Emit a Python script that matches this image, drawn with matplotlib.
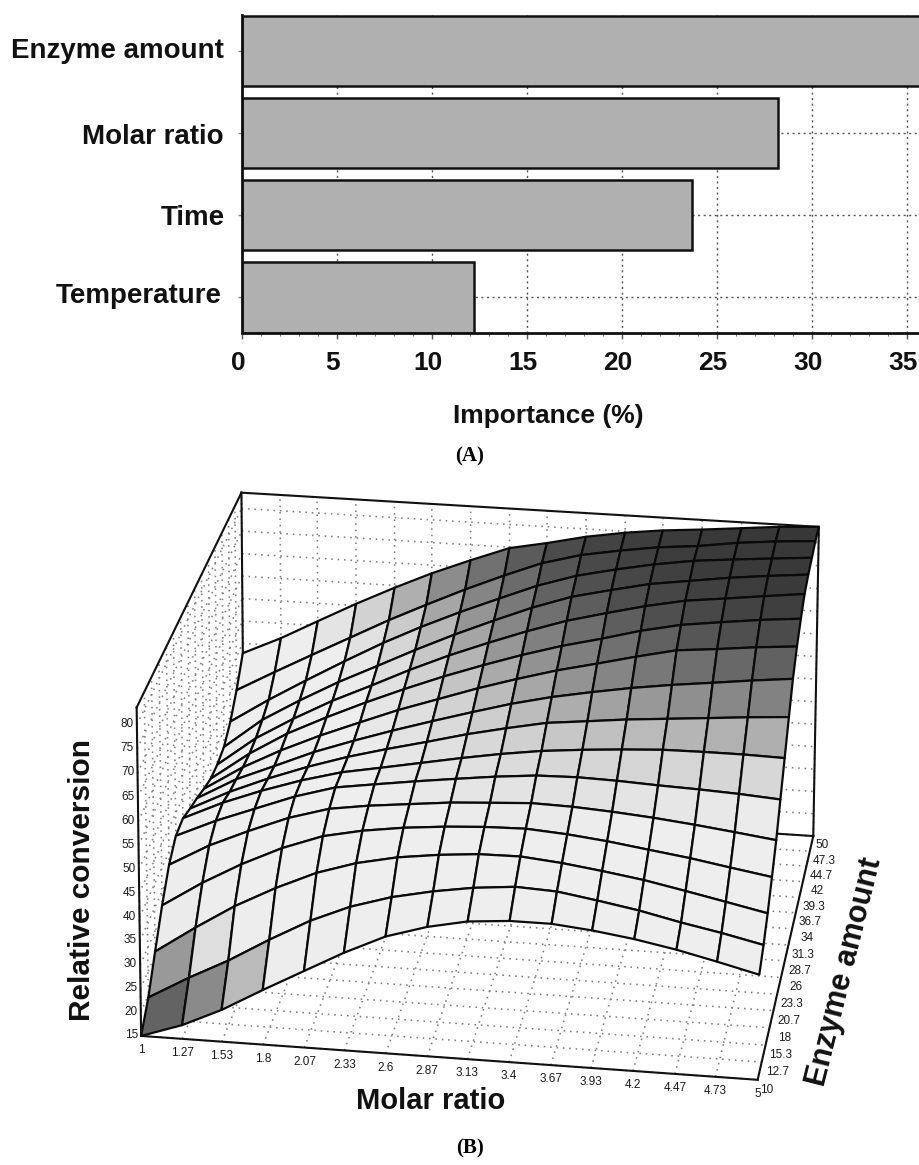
import numpy as np
import matplotlib
matplotlib.use("Agg")
import matplotlib.pyplot as plt
from matplotlib.ticker import MultipleLocator
from matplotlib.transforms import ScaledTranslation
from mpl_toolkits.mplot3d import proj3d

plt.rcParams['font.family'] = ['Liberation Sans', 'DejaVu Sans']

# ---------- data: panel A ----------
factors = ["Temperature", "Time", "Molar ratio", "Enzyme amount"]
importance = [12.2, 23.7, 28.2, 35.7]
importance_ticks = [0, 5, 10, 15, 20, 25, 30, 35]

# ---------- data: panel B ----------
molar_ticks = [1, 1.27, 1.53, 1.8, 2.07, 2.33, 2.6, 2.87, 3.13, 3.4, 3.67, 3.93, 4.2, 4.47, 4.73, 5]
enzyme_ticks = [10, 12.7, 15.3, 18, 20.7, 23.3, 26, 28.7, 31.3, 34, 36.7, 39.3, 42, 44.7, 47.3, 50]
conversion_ticks = [15, 20, 25, 30, 35, 40, 45, 50, 55, 60, 65, 70, 75, 80]
conversion_top = 83.5

# one row per enzyme amount, one column per molar ratio
conversion = [
    [15.0, 17.9, 21.7, 26.5, 31.1, 35.5, 39.5, 42.1, 43.8, 44.5, 44.5, 43.7, 42.5, 40.9, 39.0, 36.9],
    [19.5, 24.3, 28.5, 33.5, 38.1, 41.6, 44.2, 46.0, 47.3, 48.1, 47.7, 46.4, 44.9, 43.0, 41.4, 39.5],
    [25.8, 31.5, 36.6, 41.0, 44.8, 47.4, 49.2, 50.3, 51.0, 51.1, 50.3, 49.2, 47.9, 46.2, 44.5, 42.7],
    [32.1, 37.5, 42.0, 46.0, 49.1, 50.8, 52.0, 52.8, 53.3, 53.5, 52.9, 52.0, 50.8, 49.6, 48.2, 46.8],
    [37.3, 42.0, 45.6, 49.0, 51.5, 52.7, 53.6, 54.5, 55.0, 55.5, 55.3, 54.8, 54.1, 53.2, 52.2, 51.1],
    [40.2, 44.0, 47.1, 50.3, 52.8, 54.0, 55.2, 56.3, 57.3, 58.1, 58.3, 58.1, 57.7, 57.4, 57.0, 56.4],
    [40.6, 44.5, 47.6, 50.4, 52.7, 54.2, 55.8, 57.4, 58.8, 60.0, 60.8, 61.4, 61.9, 62.0, 62.0, 61.8],
    [39.3, 43.5, 46.9, 50.0, 52.7, 54.9, 57.0, 59.2, 61.0, 62.7, 63.6, 64.5, 65.2, 65.9, 66.6, 67.2],
    [38.3, 43.0, 46.4, 50.0, 53.0, 55.7, 58.3, 60.8, 63.1, 65.1, 66.7, 68.1, 69.3, 70.3, 71.3, 72.2],
    [37.0, 42.3, 46.5, 50.3, 53.7, 56.9, 59.8, 62.7, 65.2, 67.6, 69.6, 71.6, 73.5, 74.3, 75.2, 75.9],
    [35.9, 42.0, 46.9, 51.0, 54.8, 58.2, 61.5, 64.5, 67.2, 69.7, 71.8, 74.0, 75.8, 76.9, 77.9, 78.7],
    [35.8, 42.2, 47.0, 51.5, 55.4, 59.3, 63.0, 66.3, 69.3, 72.1, 74.3, 76.3, 78.0, 79.0, 80.0, 81.0],
    [36.4, 43.0, 47.8, 52.4, 56.5, 60.5, 64.4, 68.0, 71.3, 74.2, 76.2, 78.0, 79.2, 80.4, 81.3, 82.1],
    [38.8, 44.2, 49.0, 53.8, 58.4, 62.4, 66.2, 69.7, 73.0, 75.7, 77.6, 79.2, 80.5, 81.3, 82.0, 82.7],
    [42.7, 47.3, 51.6, 56.0, 60.4, 64.3, 68.2, 71.8, 75.0, 77.3, 78.8, 80.0, 80.8, 82.0, 82.8, 83.4],
    [47.8, 51.7, 56.0, 60.4, 64.5, 68.2, 71.6, 74.8, 76.4, 78.3, 79.7, 80.7, 81.4, 82.2, 83.0, 83.5],
]

# grey shade of a cell against its mean conversion
shade_levels = [18, 23, 26, 29, 32, 53, 58, 61, 64, 68, 72, 76, 80, 84]
shade_greys = [0.34, 0.54, 0.62, 0.83, 0.93, 0.935, 0.87, 0.81, 0.70, 0.55, 0.43, 0.31, 0.235, 0.21]

W, H = 920, 1165
fig = plt.figure(figsize=(W / 100, H / 100), dpi=100, facecolor='white')

# ---------- panel B: surface, with the camera calibrated on the frame ----------
ax3 = fig.add_axes([0, 0, 1, 1], projection='3d', computed_zorder=False, proj_type='ortho')
ax3.set_axis_off()
ax3.patch.set_alpha(0)
ax3.set_xlim(molar_ticks[0], molar_ticks[-1])
ax3.set_ylim(enzyme_ticks[0], enzyme_ticks[-1])
ax3.set_zlim(conversion_ticks[0], conversion_top)

mlo, mhi = molar_ticks[0], molar_ticks[-1]
elo, ehi = enzyme_ticks[0], enzyme_ticks[-1]
zlo, zhi = conversion_ticks[0], conversion_top
frame_world = [(mlo, elo, zlo), (mhi, elo, zlo), (mhi, ehi, zlo), (mlo, ehi, zlo),
               (mlo, elo, zhi), (mlo, ehi, zhi), (mhi, ehi, zhi),
               (3, elo, zlo), (mhi, 30, zlo)]
frame_pixel = [(142, 1036), (757, 1082), (813, 838), (244, 799),
               (137, 707), (241, 492), (819, 528),
               (446, 1059), (788, 947)]

T = np.array([[1 / (mhi - mlo), 0, 0, -mlo / (mhi - mlo)],
              [0, 1 / (ehi - elo), 0, -elo / (ehi - elo)],
              [0, 0, 1 / (zhi - zlo), -zlo / (zhi - zlo)],
              [0, 0, 0, 1]])
rows = []
for wp, (px, py) in zip(frame_world, frame_pixel):
    n = T @ np.array([*wp, 1.0])
    q = np.array([px / W, py / H, 1.0])
    rows.append(np.r_[n, np.zeros(4), -q[0] * n])
    rows.append(np.r_[np.zeros(4), n, -q[1] * n])
P = np.linalg.svd(np.array(rows))[2][-1].reshape(3, 4)
if (P[2] @ np.array([.5, .5, .5, 1])) < 0:
    P = -P
P = P / (P[2] @ np.array([.5, .5, .5, 1]))
P[0] *= W
P[1] *= H
M = np.vstack([P[0] @ T, P[1] @ T, [0, 0, 0, -1.0], P[2] @ T])

ax3.viewLim.intervalx = (0, W)
ax3.viewLim.intervaly = (H, 0)
ax3.get_proj = lambda: M
ax3.apply_aspect = lambda position=None: None

dot = dict(ls=(0, (1, 3)), color='#808080', lw=1.15, zorder=1)
for m in molar_ticks:
    ax3.plot([m, m], [elo, ehi], [zlo, zlo], **dot)
    ax3.plot([m, m], [ehi, ehi], [zlo, zhi], **dot)
for e in enzyme_ticks:
    ax3.plot([mlo, mhi], [e, e], [zlo, zlo], **dot)
    ax3.plot([mlo, mlo], [e, e], [zlo, zhi], **dot)
for z in conversion_ticks:
    ax3.plot([mlo, mhi], [ehi, ehi], [z, z], **dot)
    ax3.plot([mlo, mlo], [elo, ehi], [z, z], **dot)

solid = dict(color='#111111', lw=1.5, zorder=2)
for a, b in [((mlo, elo, zlo), (mhi, elo, zlo)), ((mhi, elo, zlo), (mhi, ehi, zlo)),
             ((mhi, ehi, zlo), (mlo, ehi, zlo)), ((mlo, elo, zlo), (mlo, elo, zhi)),
             ((mlo, ehi, zlo), (mlo, ehi, zhi)), ((mhi, ehi, zlo), (mhi, ehi, zhi)),
             ((mlo, elo, zhi), (mlo, ehi, zhi)), ((mlo, ehi, zhi), (mhi, ehi, zhi))]:
    ax3.plot(*zip(a, b), **solid)

X, Y = np.meshgrid(molar_ticks, enzyme_ticks)
Z = np.array(conversion)
mean_z = (Z[:-1, :-1] + Z[1:, :-1] + Z[:-1, 1:] + Z[1:, 1:]) / 4
grey = np.interp(mean_z, shade_levels, shade_greys)
faces = np.dstack([grey, grey, grey, np.ones_like(grey)])
ax3.plot_surface(X, Y, Z, facecolors=faces, rstride=1, cstride=1, shade=False,
                 edgecolor='#0a0a0a', linewidth=1.6, antialiased=True, zorder=3)

def tick_text(m, e, z, s):
    px, py, _ = proj3d.proj_transform(m, e, z, M)
    fig.text(float(px) / W, 1 - float(py) / H, s, fontsize=8.5, color='#1a1a1a',
             ha='center', va='center')

for m in molar_ticks:
    tick_text(m, elo, zlo - 3.0, f"{m:g}")
for e in enzyme_ticks:
    out = 0.06 if e in (elo, ehi) else 0.1
    tick_text(mhi + out, e, zlo - 1.9, f"{e:g}")
for z in conversion_ticks:
    tick_text(mlo - 0.065, elo, z, f"{z:g}")

# ---------- panel A ----------
ax = fig.add_axes([242 / W, 1 - 332.5 / H, 678 / W, 317.5 / H])
ax.patch.set_alpha(0)
ypos = np.arange(len(factors))
ax.set_axisbelow(True)
ax.barh(ypos, importance, height=0.86, color='#b0b0b0', edgecolor='#111111', linewidth=1.8)
ax.set_xlim(0, 35.7)
ax.set_ylim(-0.43, 3.44)
ax.set_xticks(importance_ticks)
ax.xaxis.set_minor_locator(MultipleLocator(1))
ax.set_yticks(ypos)
ax.set_yticklabels(factors, fontsize=20, fontweight='bold', color='#111111')
ax.set_xticklabels([str(t) for t in importance_ticks], fontsize=19, fontweight='bold', color='#111111')
ax.tick_params(axis='x', which='major', length=4, width=1, color='#555555', pad=9)
ax.tick_params(axis='x', which='minor', length=2.5, width=0.8, color='#777777')
ax.tick_params(axis='y', length=3, width=1, color='#888888', pad=10)
shift = ScaledTranslation(-4 / 100, 0, fig.dpi_scale_trans)
for lab in ax.get_xticklabels():
    lab.set_transform(lab.get_transform() + shift)
for lab, (dx, dy) in zip(ax.get_yticklabels(), [(-2, 4), (1, 0), (0, -1), (0, 3)]):
    lab.set_transform(lab.get_transform() + ScaledTranslation(dx / 100, dy / 100, fig.dpi_scale_trans))
ax.grid(True, axis='both', ls=(0, (1.5, 2.5)), color='#555555', lw=1.0)
for s in ('top', 'right'):
    ax.spines[s].set_visible(False)
for s in ('left', 'bottom'):
    ax.spines[s].set_linewidth(2)
    ax.spines[s].set_color('#111111')

# ---------- titles and captions ----------
def put(x, y, s, **kw):
    fig.text(x / W, 1 - y / H, s, ha='center', va='center', **kw)

put(548, 416, "Importance (%)", fontsize=19, fontweight='bold', color='#111111')
put(431, 1101, "Molar ratio", fontsize=21, fontweight='bold', color='#111111')
put(82, 880, "Relative conversion", fontsize=21.5, fontweight='bold', rotation=90, color='#111111')
put(845, 972, "Enzyme amount", fontsize=22, fontweight='bold', rotation=76, color='#111111',
    rotation_mode='anchor')
serif = ['Liberation Serif', 'DejaVu Serif']
put(470, 456, "(A)", fontsize=15, fontweight='bold', family=serif)
put(470, 1148, "(B)", fontsize=15, fontweight='bold', family=serif)

fig.savefig('out.png', dpi=100)
